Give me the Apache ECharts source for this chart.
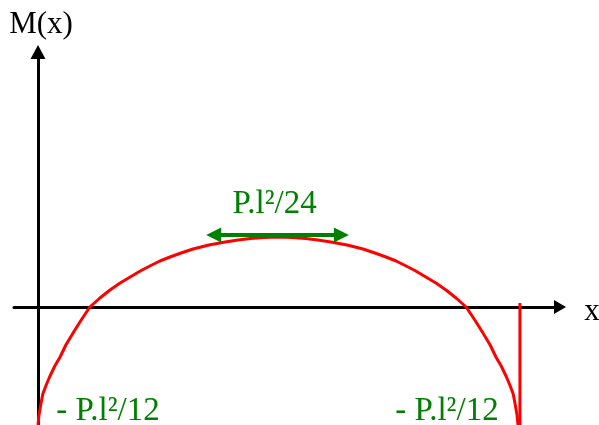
<!DOCTYPE html>
<html>
<head>
<meta charset="utf-8">
<script src="https://cdn.jsdelivr.net/npm/echarts@6/dist/echarts.min.js"></script>
<style>html,body{margin:0;padding:0;background:#fff}#c{width:599px;height:425px}</style>
</head>
<body>
<div id="c"></div>
<script>
// Bending moment curve, x as fraction of beam length l, M in drawing units
const curveX = [0.000, 0.002, 0.006, 0.010, 0.017, 0.025, 0.035, 0.046, 0.058, 0.073, 0.090, 0.108, 0.129, 0.150,
                0.171, 0.192, 0.213, 0.233, 0.254, 0.275, 0.298, 0.323, 0.356, 0.390, 0.417, 0.442, 0.471, 0.500,
                0.529, 0.558, 0.583, 0.610, 0.644, 0.677, 0.702, 0.725, 0.746, 0.767, 0.787, 0.808, 0.829, 0.850,
                0.871, 0.892, 0.910, 0.927, 0.942, 0.954, 0.965, 0.975, 0.983, 0.990, 0.994, 0.998, 1.000];
const curveM = [-118, -108, -97, -87, -78, -69, -59, -50, -38, -26, -13, 0, 9, 17,
                24, 30, 36, 41, 46, 50, 54, 58, 62, 65, 67, 68.5, 69.5, 70,
                69.5, 68.5, 67, 65, 62, 58, 54, 50, 46, 41, 36, 30, 24, 17,
                9, 0, -13, -26, -38, -50, -59, -69, -78, -87, -97, -108, -118];
// vertical jump at the right support
const jumpX = [1.004, 1.004];
const jumpM = [-118, 4];
// green double arrow at the maximum
const arrowX = [0.366, 0.632];
const arrowM = [72, 72];
// annotation labels
const labelText = ['P.l²/24', '- P.l²/12', '- P.l²/12'];
const labelX = [0.493, 0.146, 0.852];
const labelM = [103, -104, -104];
// x axis title position
const xNameText = ['x'];
const xNameX = [1.154];
const xNameM = [-5];

const chart = echarts.init(document.getElementById('c'), null, {renderer: 'canvas'});
const serif = 'Liberation Serif';
chart.setOption({
  animation: false,
  backgroundColor: '#fff',
  grid: {left: 14, right: 39, top: 52, bottom: 0, containLabel: false},
  xAxis: {
    type: 'value', min: -0.05, max: 1.0875,
    axisLine: {onZero: true, lineStyle: {color: '#000', width: 3}, symbol: ['none', 'triangle'], symbolSize: [14, 12]},
    axisTick: {show: false}, axisLabel: {show: false}, splitLine: {show: false}
  },
  yAxis: {
    type: 'value', min: -118, max: 255,
    name: 'M(x)', nameLocation: 'end', nameGap: 12,
    nameTextStyle: {fontFamily: serif, fontSize: 31, color: '#000', padding: [0, 0, 0, 6]},
    axisLine: {onZero: true, lineStyle: {color: '#000', width: 3}, symbol: ['none', 'triangle'], symbolSize: [15, 14]},
    axisTick: {show: false}, axisLabel: {show: false}, splitLine: {show: false}
  },
  series: [
    {
      type: 'line', clip: false, smooth: false, showSymbol: false,
      data: curveX.map((x, i) => [x, curveM[i]]),
      lineStyle: {color: '#ff0000', width: 3, join: 'round'}
    },
    {
      type: 'line', clip: false, showSymbol: false,
      data: jumpX.map((x, i) => [x, jumpM[i]]),
      lineStyle: {color: '#ff0000', width: 3}
    },
    {
      type: 'line', data: [], showSymbol: false,
      markLine: {
        silent: true, animation: false,
        symbol: ['triangle', 'triangle'], symbolSize: 15,
        label: {show: false},
        lineStyle: {color: '#008000', width: 4, type: 'solid'},
        emphasis: {disabled: true},
        data: [[{coord: [arrowX[0], arrowM[0]]}, {coord: [arrowX[1], arrowM[1]]}]]
      }
    },
    {
      type: 'scatter', symbolSize: 0, silent: true,
      itemStyle: {color: '#008000', opacity: 1},
      data: labelX.map((x, i) => ({value: [x, labelM[i]], name: labelText[i]})),
      label: {
        show: true, position: 'inside', formatter: p => p.name,
        fontFamily: serif, fontSize: 33, color: '#008000',
        textBorderWidth: 0, opacity: 1
      }
    },
    {
      type: 'scatter', symbolSize: 0, silent: true, clip: false,
      itemStyle: {color: '#000', opacity: 1},
      data: xNameX.map((x, i) => ({value: [x, xNameM[i]], name: xNameText[i]})),
      label: {
        show: true, position: 'inside', formatter: p => p.name,
        fontFamily: serif, fontSize: 31, color: '#000',
        textBorderWidth: 0, opacity: 1
      }
    }
  ]
});
</script>
</body>
</html>
